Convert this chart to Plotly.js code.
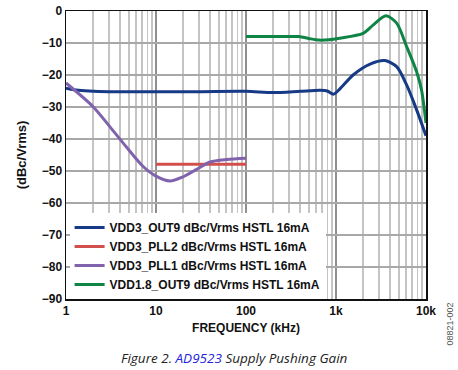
<!DOCTYPE html>
<html>
<head>
<meta charset="utf-8">
<script src="https://cdn.plot.ly/plotly-3.0.1.min.js"></script>
<style>html,body{margin:0;padding:0;background:#fff;}#chart{width:458px;height:370px;}</style>
</head>
<body>
<div id="chart"></div>
<script>
// Data
const seriesNames = [
  "VDD3_OUT9 dBc/Vrms HSTL 16mA",
  "VDD3_PLL2 dBc/Vrms HSTL 16mA",
  "VDD3_PLL1 dBc/Vrms HSTL 16mA",
  "VDD1.8_OUT9 dBc/Vrms HSTL 16mA"
];
const freqOut9 = [1, 1.3, 1.8, 3, 10, 30, 100, 200, 400, 664, 800, 935, 1100, 1550, 2390, 3500, 4720, 6090, 7870, 10000];
const valOut9  = [-24.1, -24.7, -25.0, -25.2, -25.2, -25.2, -25.1, -25.5, -25.1, -24.8, -25.0, -26.0, -24.4, -20.0, -16.6, -15.5, -17.4, -23.1, -30.9, -39.0];
const freqPll2 = [10, 100];
const valPll2  = [-47.9, -47.9];
const freqPll1 = [1, 2, 3.08, 4.72, 7.2, 10, 14.3, 20, 28.3, 39.8, 61, 100];
const valPll1  = [-22.5, -29.9, -36.2, -42.6, -48.6, -51.6, -53.1, -51.8, -49.5, -47.2, -46.4, -46.0];
const freqV18  = [100, 200, 387, 500, 650, 830, 1100, 2000, 2580, 3590, 4720, 6090, 7870, 8920, 10000];
const valV18   = [-8.0, -8.0, -8.0, -8.6, -9.1, -9.0, -8.5, -7.0, -4.4, -1.5, -3.8, -11.1, -19.0, -24.7, -35.0];
const xTickVals = [1, 10, 100, 1000, 10000];
const xTickText = ["1", "10", "100", "1k", "10k"];
const yTickVals = [0, -10, -20, -30, -40, -50, -60, -70, -80, -90];
const yTickText = ["0", "\u221210", "\u221220", "\u221230", "\u221240", "\u221250", "\u221260", "\u221270", "\u221280", "\u221290"];
const colors = ["#163a86", "#d2504b", "#8163ad", "#0e8445"];

const minorVals = [];
for (let d = 1; d < 10000; d *= 10) { for (let k = 2; k <= 9; k++) minorVals.push(k * d); }

const xs = [freqOut9, freqPll2, freqPll1, freqV18];
const ys = [valOut9, valPll2, valPll1, valV18];
const traces = xs.map((x, i) => ({
  x: x, y: ys[i], name: seriesNames[i], type: "scatter", mode: "lines",
  line: {color: colors[i], width: 3, shape: "spline", smoothing: 0.8}
}));

const fontB = {family: "Liberation Sans, Arial, sans-serif", size: 12, color: "#111", weight: "bold"};
const layout = {
  width: 458, height: 370,
  margin: {l: 66, r: 32, t: 11, b: 71},
  paper_bgcolor: "#fff", plot_bgcolor: "#fff",
  showlegend: true,
  legend: {x: 0.01, y: 0.0, xanchor: "left", yanchor: "bottom", bgcolor: "#fff",
           font: fontB, tracegroupgap: 0, itemwidth: 30, borderwidth: 0},
  xaxis: {
    type: "log", range: [0, 4], tickmode: "array", tickvals: xTickVals, ticktext: xTickText,
    tickfont: fontB, showgrid: true, gridcolor: "#8f8f8f", gridwidth: 1.5,
    showline: true, linecolor: "#111", linewidth: 1.5, mirror: true, ticks: "", zeroline: false,
    minor: {tickmode: "array", tickvals: minorVals, showgrid: true, gridcolor: "#c4c4c4", gridwidth: 1.5},
    title: {text: "FREQUENCY (kHz)", font: fontB, standoff: 6}
  },
  yaxis: {
    range: [-90, 0], tickmode: "array", tickvals: yTickVals, ticktext: yTickText,
    tickfont: fontB, showgrid: true, gridcolor: "#a8a8a8", gridwidth: 1.5,
    showline: true, linecolor: "#111", linewidth: 1.5, mirror: true, ticks: "", zeroline: false,
    title: {text: "(dBc/Vrms)", font: {family: "Liberation Sans, Arial, sans-serif", size: 13, color: "#111", weight: "bold"}, standoff: 12}
  },
  annotations: [
    {text: "<i>Figure 2. <span style='color:#2222dd'>AD9523</span> Supply Pushing Gain</i>",
     xref: "paper", yref: "paper", x: 0.467, y: -0.205, yanchor: "middle", xanchor: "center",
     showarrow: false,
     font: {family: "Open Sans, Liberation Sans, sans-serif", size: 13.5, color: "#222"}},
    {text: "08821-002", xref: "paper", yref: "paper", x: 1, y: 0, xanchor: "center", yanchor: "top",
     xshift: 23, yshift: -2, textangle: -90, showarrow: false,
     font: {family: "Liberation Sans, Arial, sans-serif", size: 9, color: "#555"}}
  ]
};
Plotly.newPlot("chart", traces, layout, {staticPlot: true, displayModeBar: false});
</script>
</body>
</html>
